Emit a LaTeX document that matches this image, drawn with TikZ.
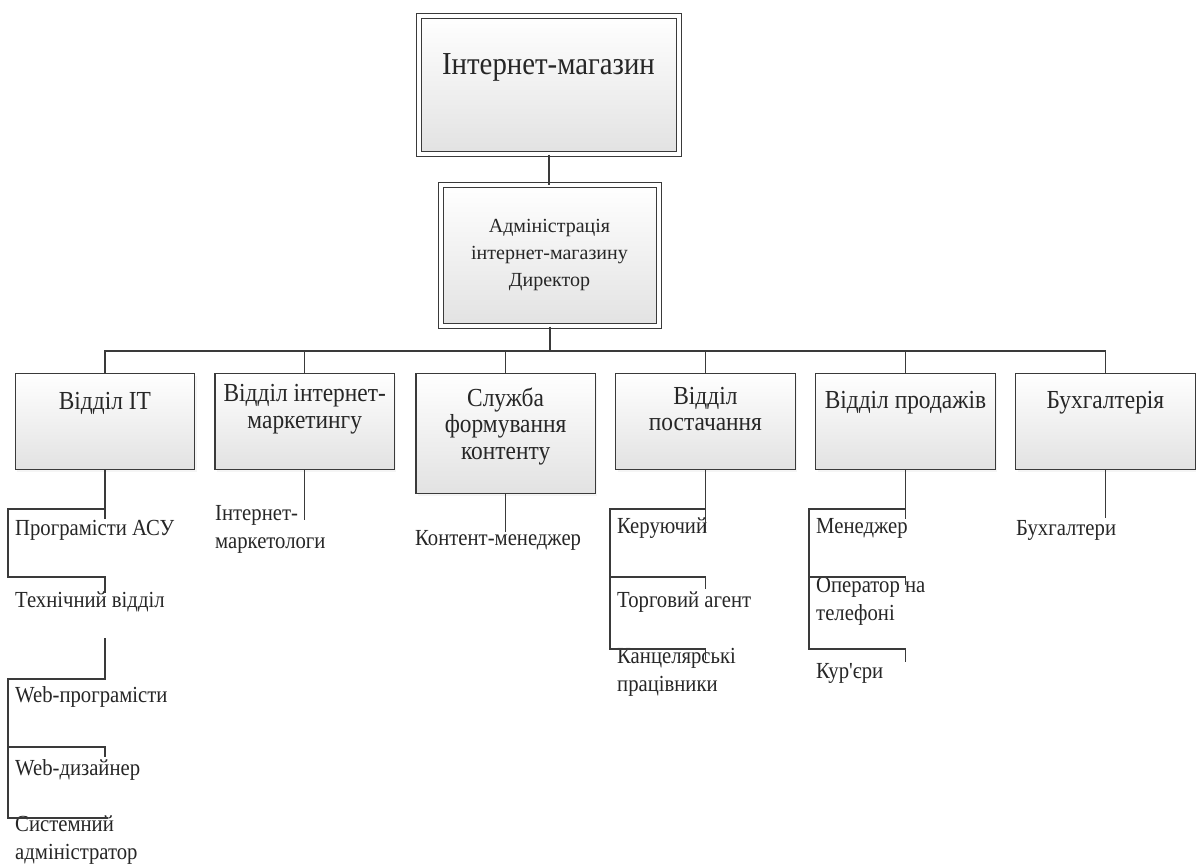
\documentclass[tikz,border=0pt]{standalone}
\usepackage{fontspec}
\setmainfont{Liberation Serif}
\newfontfamily\narrowserif[FakeStretch=0.9]{Liberation Serif}
\usetikzlibrary{shadows}
\definecolor{linec}{HTML}{3A3A3A}
\definecolor{boxbot}{HTML}{E2E2E2}
\definecolor{txt}{HTML}{262626}
\begin{document}
\begin{tikzpicture}[x=1pt,y=-1pt,
  box/.style={draw=linec, line width=1.3pt, top color=white, bottom color=boxbot,
    inner sep=0pt, drop shadow={opacity=0.08, shadow xshift=2pt, shadow yshift=-2pt}},
  dbox/.style={box, double=white, double distance=3.5pt, line width=1.1pt},
  ttl/.style={inner sep=0pt, align=center, text=txt},
  sub/.style={inner sep=0pt, anchor=west, align=left, text=txt,
    font=\narrowserif\fontsize{23}{28}\selectfont},
  dtxt/.style={ttl, font=\narrowserif\fontsize{26}{26.5}\selectfont},
  dept/.style={box, minimum width=179.5, minimum height=96, anchor=north west},
  conn/.style={draw=linec, line width=1.2pt}]
\useasboundingbox[fill=white] (0,0) rectangle (1196,863);

% top boxes
\node[dbox, minimum width=260, minimum height=138, anchor=north west] (shop) at (418.5,15.5) {};
\node[ttl, font=\narrowserif\fontsize{32}{36}\selectfont] (shopt) at (548.5,67) {Інтернет-магазин};
\node[dbox, minimum width=218, minimum height=141, anchor=north west] (adm) at (440.5,184.5) {};
\node[ttl, font=\fontsize{20}{27}\selectfont] (admt) at (549.5,255) {Адміністрація\\інтернет-магазину\\Директор};

% departments
\node[dept] (d1) at (14.5,373) {};
\node[dept] (d2) at (214.3,373) {};
\node[dept, minimum height=120] (d3) at (415.2,373) {};
\node[dept] (d4) at (615,373) {};
\node[dept] (d5) at (815,373) {};
\node[dept] (d6) at (1015,373) {};

\node[dtxt] (d1t) at (d1.north |- 0,403) {Відділ IT};
\node[dtxt] (d2t) at (d2.north |- 0,409) {Відділ інтернет-\\маркетингу};
\node[dtxt] (d3t) at (d3.north |- 0,426) {Служба\\формування\\контенту};
\node[dtxt] (d4t) at (d4.north |- 0,409) {Відділ\\постачання};
\node[dtxt] (d5t) at (d5.north |- 0,403) {Відділ продажів};
\node[dtxt] (d6t) at (d6.north |- 0,403) {Бухгалтерія};

% sub items
\node[sub] (it1) at (15,530) {Програмісти АСУ};
\node[sub] (it2) at (15,602) {Технічний відділ};
\node[sub] (it3) at (15,697) {Web-програмісти};
\node[sub] (it4) at (15,770) {Web-дизайнер};
\node[sub] (it5) at (15,840) {Системний\\адміністратор};
\node[sub] (mk1) at (215,529) {Інтернет-\\маркетологи};
\node[sub] (ct1) at (415,540) {Контент-менеджер};
\node[sub] (sp1) at (617,528) {Керуючий};
\node[sub] (sp2) at (617,602) {Торговий агент};
\node[sub] (sp3) at (617,672) {Канцелярські\\працівники};
\node[sub] (sl1) at (816,528) {Менеджер};
\node[sub] (sl2) at (816,601) {Оператор на\\телефоні};
\node[sub] (sl3) at (816,673) {Кур'єри};
\node[sub] (bh1) at (1016,530) {Бухгалтери};

% connectors top
\coordinate (bus) at (549,351);
\draw[conn] (shop.south) -- (shop.south |- adm.north);
\draw[conn] (adm.south) -- (adm.south |- bus);
\draw[conn] (d1.north) -- (d1.north |- bus) -- (d6.north |- bus) -- (d6.north);
\foreach \d in {d2,d3,d4,d5} \draw[conn] (\d.north) -- (\d.north |- bus);

% IT
\coordinate (itx) at (d1.south |- 0,509);
\coordinate (itl) at (8,509);
\draw[conn] (d1.south) -- ++(0,49);
\draw[conn] (itx) -- (itl) -- (itl |- 0,577) -- (itx |- 0,577) -- ++(0,16);
\coordinate (it2b) at (d1.south |- 0,638);
\draw[conn] (it2b) -- (itx |- 0,679) -- (itl |- 0,679) -- (itl |- 0,818) -- ([xshift=3pt]itx |- 0,818);
\draw[conn] (itl |- 0,747) -- (itx |- 0,747) -- ++(0,10);

% marketing
\coordinate (mk) at (d2.south |- 0,520);
\draw[conn] (d2.south) -- (mk);
% content
\coordinate (ct) at (d3.south |- 0,532);
\draw[conn] (d3.south) -- (ct);
% supply
\coordinate (spx) at (d4.south |- 0,509);
\coordinate (spl) at (610,509);
\draw[conn] (d4.south) -- ++(0,62);
\draw[conn] (spx) -- (spl) -- (spl |- 0,649) -- (spx |- 0,649) -- ++(0,11);
\draw[conn] (spl |- 0,577) -- (spx |- 0,577) -- ++(0,12);
% sales
\coordinate (slx) at (d5.south |- 0,509);
\coordinate (sll) at (809,509);
\draw[conn] (d5.south) -- ++(0,49);
\draw[conn] (slx) -- (sll) -- (sll |- 0,649) -- (slx |- 0,649) -- ++(0,13);
\draw[conn] (sll |- 0,577) -- (slx |- 0,577) -- ++(0,8);
% accounting
\coordinate (bh) at (d6.south |- 0,518);
\draw[conn] (d6.south) -- (bh);
\end{tikzpicture}
\end{document}
